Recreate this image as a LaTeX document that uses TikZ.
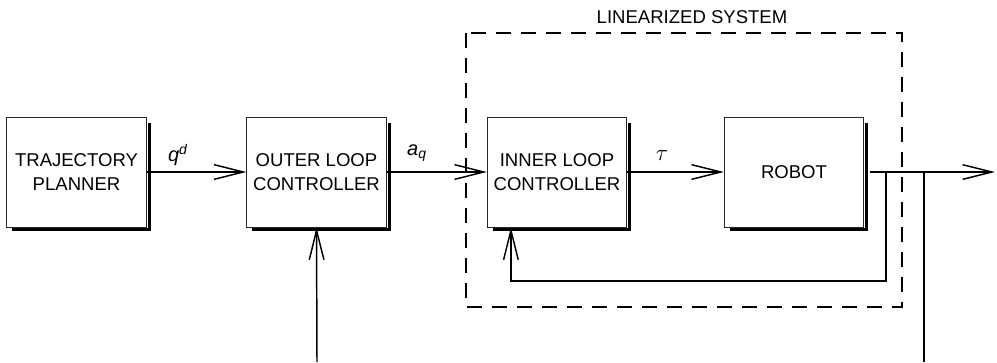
\documentclass[tikz,border=0pt]{standalone}
\usepackage{fontspec}
\setmainfont{Liberation Sans}
\usetikzlibrary{arrows.meta}
\begin{document}
\begin{tikzpicture}[x=0.75pt,y=-0.75pt,
  blk/.style={draw=black!85, line width=0.6pt, fill=white, minimum width=104.5pt, minimum height=82.5pt, inner sep=0pt, align=center, font=\fontsize{13.9}{18}\selectfont},
  shd/.style={line width=2.25pt},
  sig/.style={line width=1.1pt},
  arr/.style={sig, -{Straight Barb[length=22pt,width=11pt,line width=1.1pt]}},
  lbl/.style={font=\fontsize{13.9}{16}\selectfont, inner sep=0pt},
  mlbl/.style={font=\fontsize{15}{17}\selectfont, inner sep=0pt},
  sysbox/.style={line width=1.1pt, dash pattern=on 11.25pt off 7.5pt}]
\useasboundingbox (0,0) rectangle (997,362);
% linearized system frame
\draw[sysbox] (466,33) rectangle (902,307);
\node[lbl] (lsys) at (692,17) {LINEARIZED SYSTEM};
% blocks
\node[blk] (tp)  at (76.5,172)  {TRAJECTORY\\PLANNER};
\node[blk] (olc) at (316.5,172) {OUTER LOOP\\CONTROLLER};
\node[blk] (ilc) at (557,172)   {INNER LOOP\\CONTROLLER};
\node[blk] (rob) at (794,172)   {ROBOT};
\foreach \n in {tp,olc,ilc,rob}{
  \draw[shd] ([shift={(2.5,6)}]\n.north east) -- ([shift={(2.5,2.5)}]\n.south east) -- ([shift={(6,2.5)}]\n.south west);
}
% coordinates
\coordinate (o1) at (870,172);
\coordinate (oend) at (995,172);
\coordinate (fb) at (886,172);
\coordinate (fbc) at (886,281);
\coordinate (br) at (924,172);
\coordinate (brend) at (924,362);
\coordinate (ob) at (317,362);
% connectors
\draw[arr] (tp.east) -- (olc.west);
\draw[arr] (olc.east) -- (ilc.west);
\draw[arr] (ilc.east) -- (rob.west);
\draw[arr] (o1) -- (oend);
\draw[arr] (fb) -- (fbc) -| ([xshift=18pt]ilc.south west);
\draw[sig] (br) -- (brend);
\draw[arr] (ob) -- (olc.south);
% labels
\node[mlbl] (lqd) at (178,155) {\textit{q}\textsuperscript{\textit{d}}};
\node[mlbl] (laq) at (417,153) {\textit{a}\textsubscript{\textit{q}}};
\node[mlbl, font=\fontsize{19}{20}\selectfont] (ltau) at (662,156) {$\tau$};
\end{tikzpicture}
\end{document}
